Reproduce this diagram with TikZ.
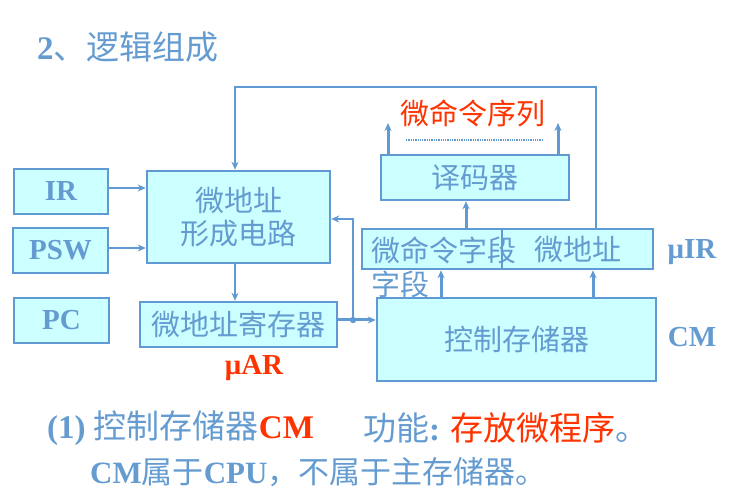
\documentclass[tikz,border=0pt]{standalone}
\usepackage{fontspec}
\setmainfont{Liberation Serif}
\newfontfamily\cjk{Noto Sans CJK SC}
\usetikzlibrary{arrows.meta}
\definecolor{lineblue}{RGB}{95,155,210}
\definecolor{textblue}{RGB}{100,155,208}
\definecolor{boxcyan}{RGB}{204,255,255}
\definecolor{hotred}{RGB}{255,51,0}
\newcommand{\zh}[1]{{\cjk #1}}
\tikzset{
  box/.style={draw=lineblue, fill=boxcyan, line width=2.5pt, inner sep=0pt,
    text=textblue, font=\cjk\fontsize{29}{33}\selectfont},
  regbox/.style={box, font=\bfseries\fontsize{29}{33}\selectfont},
  boxtext/.style={inner sep=0pt, text=textblue, font=\cjk\fontsize{29}{33}\selectfont},
  tag/.style={inner sep=0pt, text=textblue, font=\bfseries\fontsize{29}{33}\selectfont},
  conn/.style={draw=lineblue, line width=2.2pt, -{Stealth[length=8pt,width=7pt]}},
  thickconn/.style={conn, line width=3pt}
}
\begin{document}
\begin{tikzpicture}[x=1pt,y=-1pt]
\useasboundingbox (0,0) rectangle (732,489);
% title
\node[anchor=west, inner sep=0pt, text=textblue, font=\fontsize{33}{38}\selectfont] (ttl) at (37,47) {\textbf{2}\zh{、逻辑组成}};
% boxes
\node[regbox, minimum width=94, minimum height=45] (ir) at (61,191.5) {IR};
\node[regbox, minimum width=95, minimum height=45] (psw) at (60.5,250.5) {PSW};
\node[regbox, minimum width=95, minimum height=45] (pc) at (61.5,320.5) {PC};
\node[box, minimum width=183, minimum height=92, align=center] (form) at (238.5,217) {微地址\\形成电路};
\node[box, minimum width=197, minimum height=45] (uar) at (238.5,324.5) {微地址寄存器};
\node[box, minimum width=188, minimum height=45] (dec) at (475,177.5) {译码器};
\node[box, minimum width=291, minimum height=40] (uir) at (507.5,249) {};
\node[box, minimum width=279, minimum height=83] (cm) at (516.5,339.5) {控制存储器};
\draw[draw=lineblue, line width=2.5pt] (uir.north -| 502,0) -- (uir.south -| 502,0);
\node[boxtext, anchor=west] (mcf) at (371,250) {微命令字段};
\node[boxtext, anchor=west] (maf) at (534,250) {微地址};
\node[boxtext, anchor=west] (zd) at (371,284) {字段};
% labels
\node[tag] (uirtag) at (692,252) {μIR};
\node[tag] (cmtag) at (692,337) {CM};
\node[tag, text=hotred] (uartag) at (254,368) {μAR};
\node[boxtext, text=hotred] (seq) at (473,113) {微命令序列};
% connectors
\coordinate (topR) at (596,87);
\coordinate (topL) at (235,87);
\coordinate (jn) at (353,320);
\coordinate (out1) at (388,123);
\coordinate (out2) at (558,123);
\draw[conn] (uir.north -| topR) -- (topR) -- (topL) -- (topL |- form.north);
\draw[conn] (ir.east |- 0,188) -- (form.west |- 0,188);
\draw[conn] (psw.east |- 0,248) -- (form.west |- 0,248);
\draw[conn] (form.south -| topL) -- (uar.north -| topL);
\draw[thickconn] (uar.east |- jn) -- (cm.west |- jn);
\fill[lineblue] (jn) circle (3.2);
\draw[conn] (jn) |- (form.east |- 0,219);
\draw[thickconn] (cm.north -| 441,0) -- (uir.south -| 441,0);
\draw[thickconn] (cm.north -| 593,0) -- (uir.south -| 593,0);
\draw[thickconn] (uir.north -| 466,0) -- (dec.south -| 466,0);
\draw[thickconn] (dec.north -| out1) -- (out1);
\draw[thickconn] (dec.north -| out2) -- (out2);
\draw[lineblue, line width=1.3pt, densely dotted] (406,140) -- (543,140);
% text below
\node[anchor=west, inner sep=0pt, text=textblue, font=\fontsize{33}{38}\selectfont] (l1a) at (47,428)
  {\textbf{(1)} \zh{控制存储器}\textcolor{hotred}{\textbf{CM}}};
\node[anchor=west, inner sep=0pt, text=textblue, font=\fontsize{33}{38}\selectfont] (l1b) at (363,428)
  {\zh{功能}\textbf{:}\hspace{10pt}\textcolor{hotred}{\zh{存放微程序}}\zh{。}};
\node[anchor=west, inner sep=0pt, text=textblue, font=\fontsize{31}{36}\selectfont] (l2) at (90,472)
  {\textbf{CM}\zh{属于}\textbf{CPU}\zh{，不属于主存储器。}};
\end{tikzpicture}
\end{document}
